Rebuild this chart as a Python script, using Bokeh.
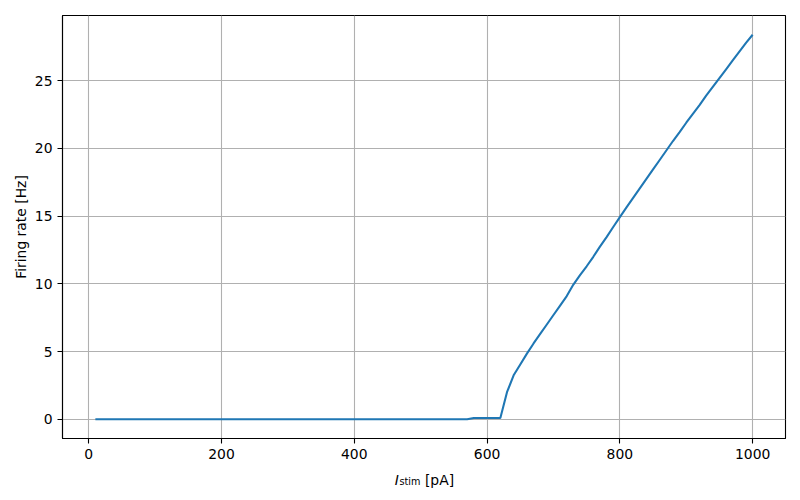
from bokeh.plotting import figure
from bokeh.models import Range1d, FixedTicker, Label
from bokeh.embed import file_html
from bokeh.resources import INLINE

# ---- data ----
current_pA = list(range(10, 1010, 10))
rate_Hz = [
    0, 0, 0, 0, 0, 0, 0, 0, 0, 0,
    0, 0, 0, 0, 0, 0, 0, 0, 0, 0,
    0, 0, 0, 0, 0, 0, 0, 0, 0, 0,
    0, 0, 0, 0, 0, 0, 0, 0, 0, 0,
    0, 0, 0, 0, 0, 0, 0, 0, 0, 0,
    0, 0, 0, 0, 0, 0, 0,
    0.1, 0.1, 0.1, 0.1, 0.1,
    2.0, 3.25, 4.05, 4.85, 5.6, 6.3, 7.0, 7.7,
    8.4, 9.1, 9.95, 10.65, 11.3, 12.0, 12.75, 13.45, 14.2, 14.93,
    15.65, 16.35, 17.05, 17.75, 18.45, 19.15, 19.85, 20.55, 21.2, 21.9,
    22.55, 23.2, 23.9, 24.55, 25.2, 25.85, 26.5, 27.15, 27.8, 28.4,
]
x_ticks = [0, 200, 400, 600, 800, 1000]
y_ticks = [0, 5, 10, 15, 20, 25]
y_label = "Firing rate [Hz]"
x_label_main = "I"
x_label_sub = "stim"
x_label_unit = "[pA]"

FONT = "DejaVu Sans"
FS = "13.9px"

p = figure(width=800, height=500, output_backend="svg", toolbar_location=None,
           x_range=Range1d(-39.5, 1049.5), y_range=Range1d(-1.42, 29.82),
           min_border_left=62, min_border_right=15, min_border_top=15, min_border_bottom=62)

p.line(current_pA, rate_Hz, line_color="#1f77b4", line_width=2.08)

p.outline_line_color = "black"
p.outline_line_width = 1.1
p.background_fill_color = "white"
p.border_fill_color = "white"

for ax in (p.xaxis[0], p.yaxis[0]):
    ax.axis_line_color = "black"
    ax.axis_line_width = 1.1
    ax.major_tick_line_color = "black"
    ax.major_tick_line_width = 1.1
    ax.major_tick_out = 5
    ax.major_tick_in = 0
    ax.minor_tick_line_color = None
    ax.major_label_text_font = FONT
    ax.major_label_text_font_size = FS
    ax.major_label_text_color = "black"
    ax.major_label_standoff = 5
    ax.axis_label_text_font = FONT
    ax.axis_label_text_font_size = FS
    ax.axis_label_text_font_style = "normal"
    ax.axis_label_text_color = "black"

p.xaxis[0].ticker = FixedTicker(ticks=x_ticks)
p.yaxis[0].ticker = FixedTicker(ticks=y_ticks)
p.yaxis[0].axis_label = y_label
p.yaxis[0].axis_label_standoff = 3

for g in (p.xgrid[0], p.ygrid[0]):
    g.grid_line_color = "#b0b0b0"
    g.grid_line_width = 1.1
p.xgrid[0].ticker = FixedTicker(ticks=x_ticks)
p.ygrid[0].ticker = FixedTicker(ticks=y_ticks)

# x-axis label: italic I with subscript "stim", then "[pA]" (placed in side panels so they are not clipped)
p.add_layout(Label(x=460.8, y=-4.47, x_units="data", y_units="data", text=x_label_main,
                   text_font=FONT, text_font_size=FS, text_font_style="italic",
                   text_baseline="alphabetic", text_align="left", text_color="black"), "right")
p.add_layout(Label(x=468.1, y=-4.60, x_units="data", y_units="data", text=x_label_sub,
                   text_font=FONT, text_font_size="9.7px",
                   text_baseline="alphabetic", text_align="left", text_color="black"), "below")
p.add_layout(Label(x=506.4, y=-4.47, x_units="data", y_units="data", text=x_label_unit,
                   text_font=FONT, text_font_size=FS,
                   text_baseline="alphabetic", text_align="left", text_color="black"), "below")

open("out.html", "w").write(file_html(p, INLINE))
